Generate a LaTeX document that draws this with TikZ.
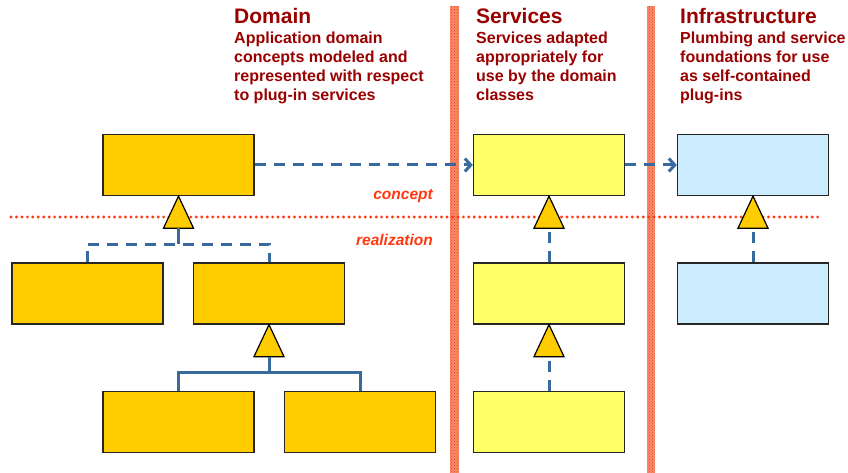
\documentclass[tikz,border=0pt]{standalone}
\usepackage{fontspec}
\setmainfont{Liberation Sans}
\usetikzlibrary{arrows.meta,patterns}
\definecolor{domainfill}{RGB}{255,204,0}
\definecolor{servfill}{RGB}{255,255,102}
\definecolor{infrafill}{RGB}{204,236,255}
\definecolor{linkblue}{RGB}{56,106,158}
\definecolor{headred}{RGB}{153,0,0}
\definecolor{layerred}{RGB}{255,56,16}
\definecolor{barfill}{RGB}{248,140,108}
\definecolor{bardots}{RGB}{235,60,25}
\tikzset{
  box/.style={draw=black!85, line width=1.3pt, minimum width=151pt, minimum height=61pt, inner sep=0pt},
  dombox/.style={box, fill=domainfill},
  servbox/.style={box, fill=servfill},
  infbox/.style={box, fill=infrafill},
  tri/.style={draw=black, line width=1.2pt, fill=domainfill, line join=miter},
  link/.style={draw=linkblue, line width=3pt},
  dashlink/.style={link, dash pattern=on 11pt off 8pt},
  depend/.style={dashlink, -{Straight Barb[length=6pt,width=13pt,line width=3pt]}},
  layerline/.style={draw=layerred, line width=3.2pt, line cap=round, dash pattern=on 0pt off 5.45pt},
  layerlabel/.style={text=layerred, font=\fontsize{15.5}{18}\selectfont\bfseries\itshape, inner sep=0pt, anchor=east},
  headtitle/.style={text=headred, font=\fontsize{21}{24}\selectfont\bfseries, inner sep=0pt, anchor=base west},
  headtext/.style={text=headred, font=\fontsize{16}{19}\selectfont\bfseries, inner sep=0pt, anchor=north west, align=left},
  sepbar/.style={fill=barfill, postaction={pattern=crosshatch dots, pattern color=bardots}}
}
\begin{document}
\begin{tikzpicture}[x=1pt,y=-1pt]
\useasboundingbox (0,0) rectangle (848,473);

% layer separators
\path[sepbar] (450,6) rectangle (459,473);
\path[sepbar] (647,6) rectangle (655,473);

% column headings
\node[headtitle] (hdom) at (234,24) {Domain};
\node[headtext] (tdom) at (234,32) {Application domain\\concepts modeled and\\represented with respect\\to plug-in services};
\node[headtitle] (hsrv) at (476,24) {Services};
\node[headtext] (tsrv) at (476,32) {Services adapted\\appropriately for\\use by the domain\\classes};
\node[headtitle] (hinf) at (680,24) {Infrastructure};
\node[headtext] (tinf) at (680,32) {Plumbing and service\\foundations for use\\as self-contained\\plug-ins};

% concept / realization boundary
\coordinate (bl) at (11,217);
\coordinate (br) at (823,217);
\draw[layerline] (bl) -- (br);
\node[layerlabel] (lconcept) at (433,196) {concept};
\node[layerlabel] (lreal) at (433,240) {realization};

% classes
\node[dombox] (dtop) at (178.5,165) {};
\node[dombox] (dml) at (87.5,293.5) {};
\node[dombox] (dmr) at (269,293.5) {};
\node[dombox] (dbl) at (178.5,422) {};
\node[dombox] (dbr) at (360,422) {};
\node[servbox] (stop) at (549,165) {};
\node[servbox] (smid) at (549,293.5) {};
\node[servbox] (sbot) at (549,422) {};
\node[infbox] (itop) at (753,165) {};
\node[infbox] (imid) at (753,293.5) {};

% dependencies across layers
\draw[depend] (dtop.east) -- (stop.west);
\draw[depend] (stop.east) -- (itop.west);

% generalization triangles (apex on the parent, base coordinate below)
\draw[tri] (dtop.south) -- ++(15,32) -- ++(-30,0) -- cycle;
\coordinate (gdt) at ([yshift=-32pt]dtop.south);
\draw[tri] (dmr.south) -- ++(15,32) -- ++(-30,0) -- cycle;
\coordinate (gdm) at ([yshift=-32pt]dmr.south);
\draw[tri] (stop.south) -- ++(15,32) -- ++(-30,0) -- cycle;
\coordinate (gst) at ([yshift=-32pt]stop.south);
\draw[tri] (smid.south) -- ++(15,32) -- ++(-30,0) -- cycle;
\coordinate (gsm) at ([yshift=-32pt]smid.south);
\draw[tri] (itop.south) -- ++(15,32) -- ++(-30,0) -- cycle;
\coordinate (git) at ([yshift=-32pt]itop.south);

% realization links (dashed)
\coordinate (jdt) at (178.5,244);
\draw[link] (gdt) -- (jdt);
\draw[dashlink] (dml.north) |- (jdt) -| (dmr.north);
\draw[dashlink] (smid.north) -- (gst);
\draw[dashlink] (sbot.north) -- (gsm);
\draw[dashlink] (imid.north) -- (git);

% specialization links (solid)
\coordinate (jdm) at (269,372);
\draw[link] (gdm) -- (jdm);
\draw[link] (dbl.north) |- (jdm) -| (dbr.north);
\end{tikzpicture}
\end{document}
